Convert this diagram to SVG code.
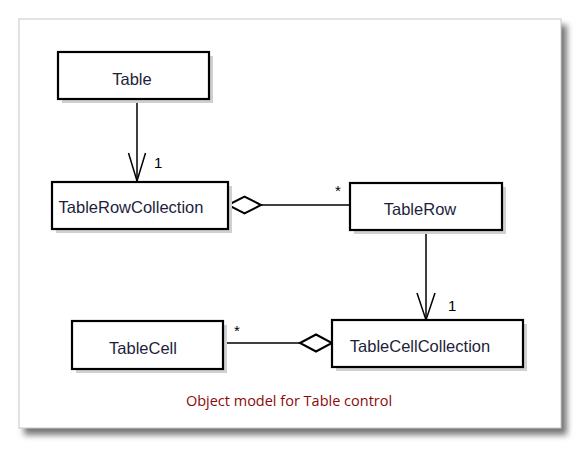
<svg xmlns="http://www.w3.org/2000/svg" width="580" height="450" viewBox="0 0 580 450">
<defs>
<style>
.box{fill:#fff;stroke:#000;stroke-width:2.2}
.sh{fill:#d0d0d0}
.lbl{font-family:"Liberation Sans",Arial,sans-serif;font-size:16.5px;fill:#1e1e3c;text-anchor:middle}
.mult{font-family:"Liberation Sans",Arial,sans-serif;font-size:15px;fill:#000}
.ln{fill:none;stroke:#000;stroke-width:1.5}
.dia{fill:#fff;stroke:#000;stroke-width:2}
.cap{font-family:"Open Sans","Liberation Sans",sans-serif;font-size:14.5px;fill:#8b0a0a;text-anchor:middle}
</style>
<filter id="psh" x="-5%" y="-5%" width="115%" height="115%">
<feGaussianBlur stdDeviation="3"/>
</filter>
</defs>
<rect x="0" y="0" width="580" height="450" fill="#fff"/>
<g id="panel">
<rect x="24" y="25" width="543" height="410" fill="#777" filter="url(#psh)"/>
<rect x="19" y="19" width="542" height="409" fill="#fff" stroke="#c8c8c8" stroke-width="1"/>
</g>
<g id="connectors">
<line class="ln" x1="137" y1="99" x2="137" y2="181"/>
<polyline class="ln" points="128.5,153 137,181 145.5,153"/>
<text class="mult" x="154" y="168">1</text>
<line class="ln" x1="261" y1="205" x2="350" y2="205"/>
<polygon class="dia" points="228,205 244.5,196.5 261,205 244.5,213.5"/>
<text class="mult" x="335" y="196">*</text>
<line class="ln" x1="426" y1="230" x2="426" y2="320"/>
<polyline class="ln" points="417,293 426,320 435,293"/>
<text class="mult" x="448" y="311">1</text>
<line class="ln" x1="223" y1="343" x2="300" y2="343"/>
<polygon class="dia" points="300,343 316,334.5 332,343 316,351.5"/>
<text class="mult" x="234" y="336">*</text>
</g>
<g id="node-table">
<rect class="sh" x="62" y="56" width="151" height="47"/>
<rect class="box" x="58" y="52" width="151" height="47"/>
<text class="lbl" x="132" y="85">Table</text>
</g>
<g id="node-tablerowcollection">
<rect class="sh" x="56" y="186" width="176" height="47"/>
<rect class="box" x="52" y="182" width="176" height="47"/>
<text class="lbl" x="131" y="213">TableRowCollection</text>
</g>
<g id="node-tablerow">
<rect class="sh" x="354" y="187" width="152" height="47"/>
<rect class="box" x="350" y="183" width="152" height="47"/>
<text class="lbl" x="420" y="215">TableRow</text>
</g>
<g id="node-tablecellcollection">
<rect class="sh" x="336" y="324" width="191" height="47"/>
<rect class="box" x="332" y="320" width="191" height="47"/>
<text class="lbl" x="420" y="352">TableCellCollection</text>
</g>
<g id="node-tablecell">
<rect class="sh" x="76" y="325" width="151" height="48"/>
<rect class="box" x="72" y="321" width="151" height="48"/>
<text class="lbl" x="143" y="354">TableCell</text>
</g>
<text class="cap" x="289" y="406">Object model for Table control</text>
</svg>
